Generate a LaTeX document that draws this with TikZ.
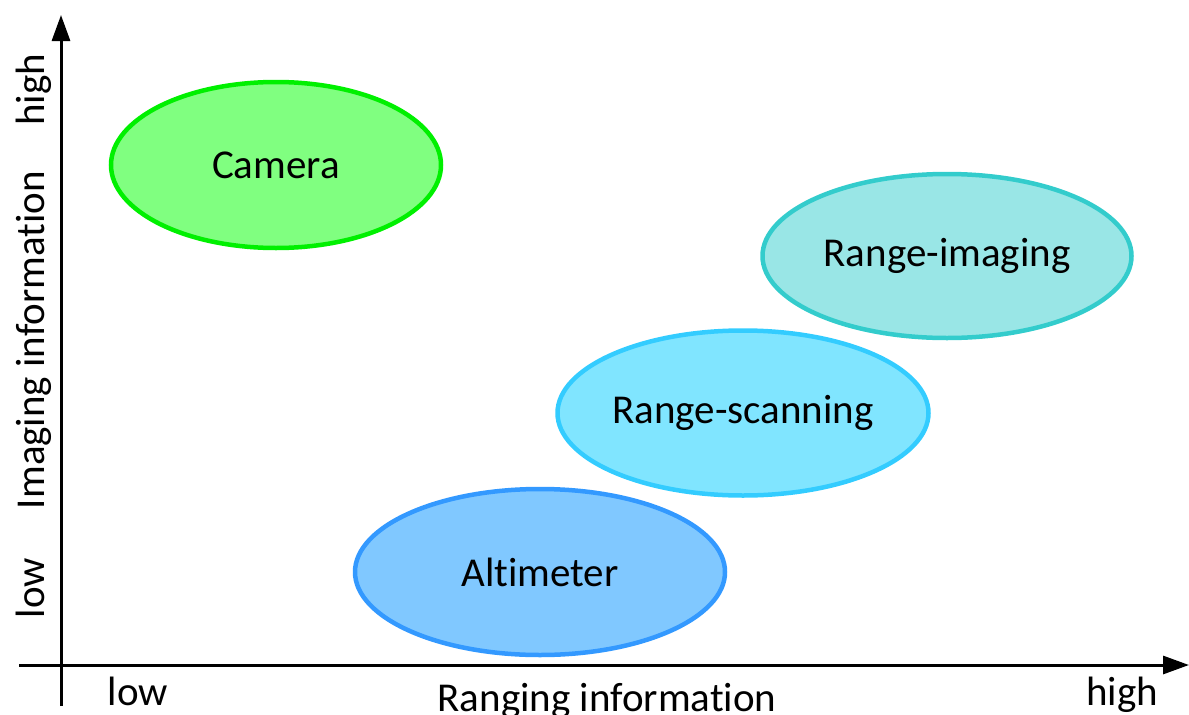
\documentclass[tikz,border=0pt]{standalone}
\usepackage{fontspec}
\setmainfont{Carlito}[Ligatures=NoCommon]
\usetikzlibrary{shapes.geometric,arrows.meta}

\definecolor{camfill}{RGB}{128,255,128}
\definecolor{camline}{RGB}{0,240,0}
\definecolor{imgfill}{RGB}{153,230,230}
\definecolor{imgline}{RGB}{51,204,204}
\definecolor{scanfill}{RGB}{128,229,255}
\definecolor{scanline}{RGB}{51,204,255}
\definecolor{altfill}{RGB}{128,200,255}
\definecolor{altline}{RGB}{51,153,255}

\tikzset{
  sensor/.style={ellipse, line width=4.5pt, inner sep=0pt,
    font=\fontsize{41}{49}\selectfont, text=black},
  axis/.style={line width=3pt, -{Triangle[length=26pt,width=18pt]}},
  axlabel/.style={font=\fontsize{41}{49}\selectfont, anchor=base, inner sep=0pt}
}

\begin{document}
\begin{tikzpicture}[x=1pt,y=-1pt]
  \useasboundingbox (0,0) rectangle (1189,715);

  % axes
  \coordinate (yfoot) at (61,706);
  \coordinate (ytop) at (61,15);
  \coordinate (xfoot) at (19,665);
  \coordinate (xend) at (1189,665);
  \draw[axis] (yfoot) -- (ytop);
  \draw[axis] (xfoot) -- (xend);

  % axis labels
  \node[axlabel] (xlow) at (138,705) {low};
  \node[axlabel] (xhigh) at (1122,705) {high};
  \node[axlabel] (xtitle) at (607,711) {Ranging information};
  \node[axlabel, rotate=90] (ylow) at (44,588) {low};
  \node[axlabel, rotate=90] (yhigh) at (44,90) {high};
  \node[axlabel, rotate=90] (ytitle) at (44,340) {Imaging information};

  % sensor classes
  \node[sensor, draw=camline, fill=camfill, minimum width=330pt, minimum height=166pt]
    (camera) at (276,165) {Camera};
  \node[sensor, draw=imgline, fill=imgfill, minimum width=369pt, minimum height=164pt]
    (rimg) at (947,256) {Range-imaging};
  \node[sensor, draw=scanline, fill=scanfill, minimum width=371pt, minimum height=165pt]
    (rscan) at (743,413) {Range-scanning};
  \node[sensor, draw=altline, fill=altfill, minimum width=370pt, minimum height=166pt]
    (alt) at (540,572) {Altimeter};
\end{tikzpicture}
\end{document}
